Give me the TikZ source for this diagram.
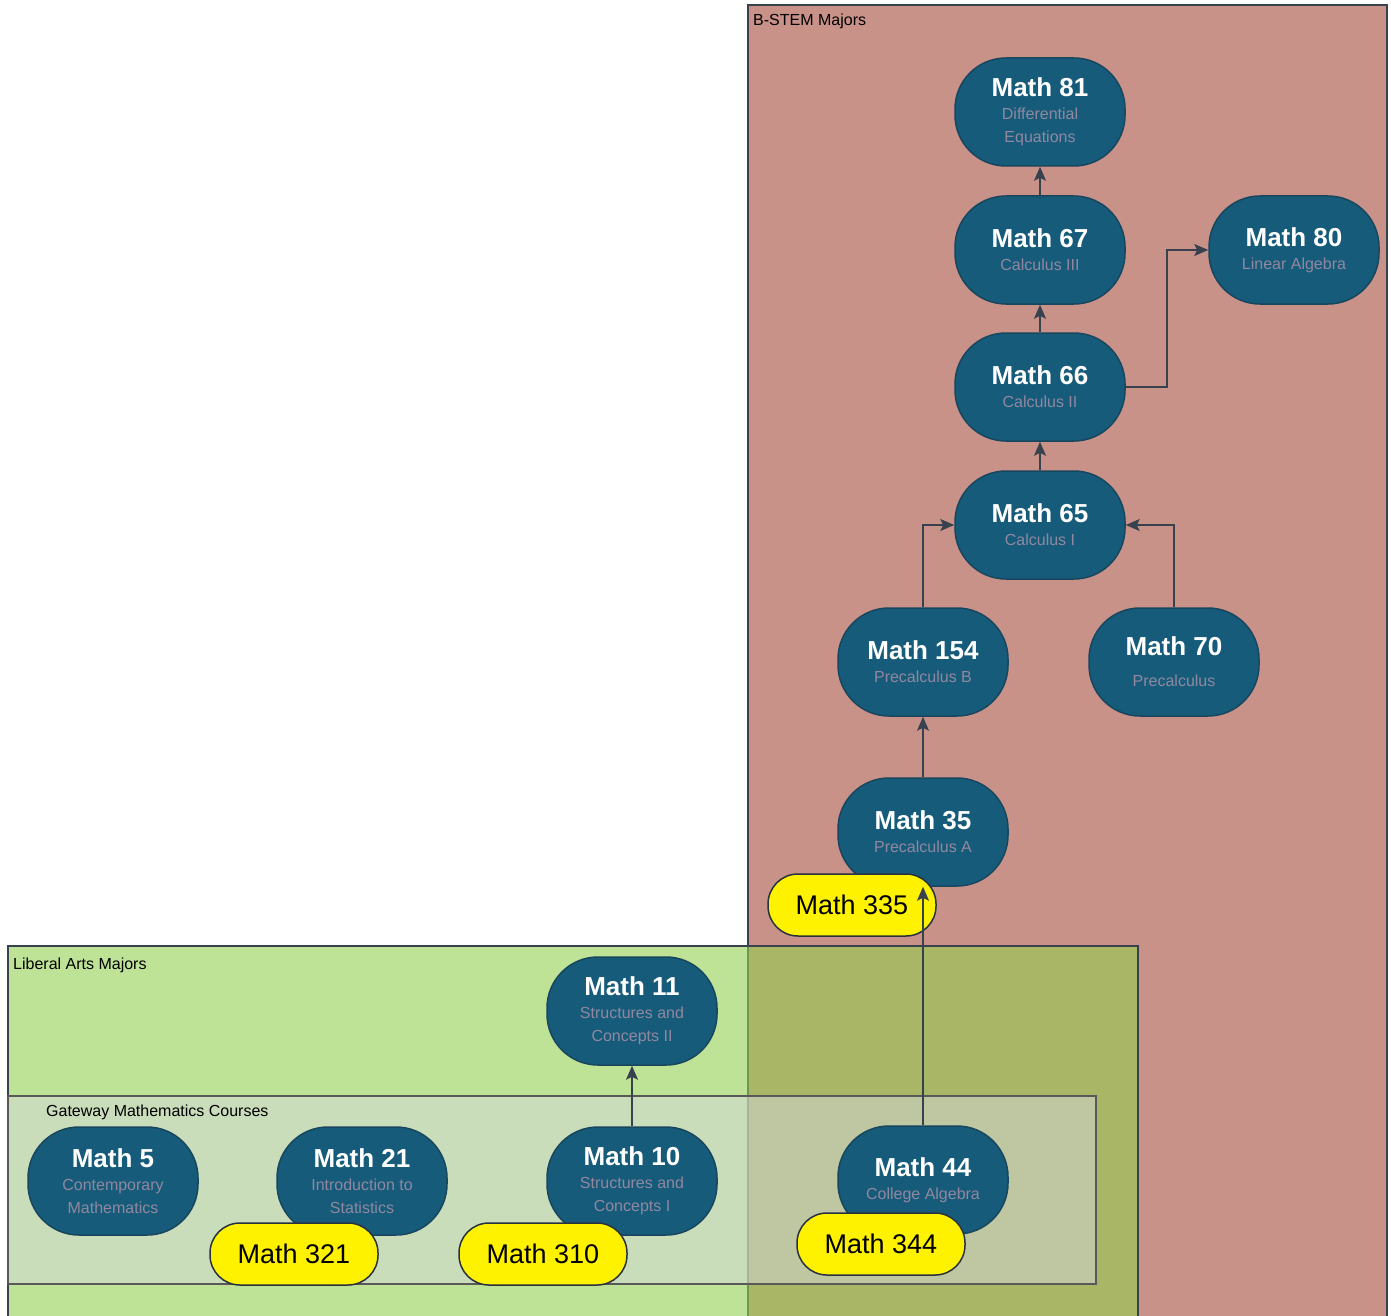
\documentclass[tikz,border=0pt]{standalone}
\usepackage{fontspec}
\setmainfont{Liberation Sans}
\usepackage{tikz}
\usetikzlibrary{arrows.meta}
\usepackage{xcolor}
\definecolor{stemfill}{RGB}{200,146,136}
\definecolor{artsfill}{RGB}{147,207,80}
\definecolor{gatefill}{RGB}{215,215,222}
\definecolor{boxline}{RGB}{55,66,78}
\definecolor{courseblue}{RGB}{22,92,122}
\definecolor{courseline}{RGB}{24,70,94}
\definecolor{subgray}{RGB}{145,135,160}
\definecolor{pillline}{RGB}{40,50,62}
\newcommand{\ttl}{\fontsize{26}{28}\selectfont\bfseries\color{white}}

\begin{document}
\begin{tikzpicture}[x=1pt,y=-1pt,
  course/.style={draw=courseline,line width=1.5pt,fill=courseblue,rounded corners=51pt,
    minimum width=170pt,minimum height=108pt,align=center,text=subgray,
    font=\fontsize{16}{23}\selectfont,inner sep=2pt},
  pill/.style={draw=pillline,line width=1.5pt,fill=yellow,rounded corners=30pt,
    minimum width=168pt,minimum height=62pt,font=\fontsize{27}{30}\selectfont},
  link/.style={draw=boxline,line width=1.5pt,-{Stealth[length=14pt,width=12pt,inset=3pt]}},
  boxlabel/.style={anchor=west,font=\fontsize{16}{18}\selectfont,inner sep=0pt}]
\useasboundingbox (0,0) rectangle (1391,1316);

%Shape: B-STEM Majors
\draw[boxline,line width=2.5pt,fill=stemfill] (748,5) rectangle (1387,1330);
\node[boxlabel] (stem) at (753,21) {B-STEM Majors};

%Shape: Liberal Arts Majors
\fill[artsfill,fill opacity=0.6] (8,946) rectangle (1138,1330);
\draw[boxline,line width=2.5pt] (8,946) rectangle (1138,1330);
\node[boxlabel] (arts) at (13,965) {Liberal Arts Majors};

%Shape: Gateway Mathematics Courses
\fill[gatefill,fill opacity=0.5] (8,1096) rectangle (1096,1284);
\draw[gray!70!black,line width=2pt] (8,1096) rectangle (1096,1284);
\node[boxlabel] (gate) at (46,1112) {Gateway Mathematics Courses};

% Course nodes
\node[course] (m81) at (1040,112) {{\ttl Math 81}\\Differential\\Equations};
\node[course] (m67) at (1040,250) {{\ttl Math 67}\\Calculus III};
\node[course] (m80) at (1294,250) {{\ttl Math 80}\\Linear Algebra};
\node[course] (m66) at (1040,387) {{\ttl Math 66}\\Calculus II};
\node[course] (m65) at (1040,525) {{\ttl Math 65}\\Calculus I};
\node[course] (m154) at (923,662) {{\ttl Math 154}\\Precalculus B};
\node[course] (m70) at (1174,662) {{\ttl Math 70}\\[8pt]Precalculus};
\node[course] (m35) at (923,832) {{\ttl Math 35}\\Precalculus A};
\node[course] (m11) at (632,1011) {{\ttl Math 11}\\Structures and\\Concepts II};
\node[course] (m5) at (113,1181) {{\ttl Math 5}\\Contemporary\\Mathematics};
\node[course] (m21) at (362,1181) {{\ttl Math 21}\\Introduction to\\Statistics};
\node[course] (m10) at (632,1181) {{\ttl Math 10}\\Structures and\\Concepts I};
\node[course] (m44) at (923,1180) {{\ttl Math 44}\\College Algebra};

% Support courses
\node[pill] (m335) at (852,905) {Math 335};
\node[pill] (m321) at (294,1254) {Math 321};
\node[pill] (m310) at (543,1254) {Math 310};
\node[pill] (m344) at (881,1244) {Math 344};

%Straight Lines
\draw[link] (m67) -- (m81);
\draw[link] (m66) -- (m67);
\draw[link] (m65) -- (m66);
\draw[link] (m66.east) -- ++(41,0) |- (m80.west);
\draw[link] (m154.north) |- (m65.west);
\draw[link] (m70.north) |- (m65.east);
\draw[link] (m35) -- (m154);
\draw[link] (m44.north) -- (m35.south);
\draw[link] (m10) -- (m11);

\end{tikzpicture}
\end{document}
